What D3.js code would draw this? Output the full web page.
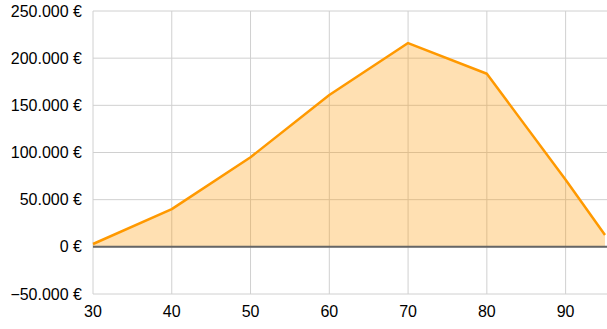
<!DOCTYPE html>
<html>
<head>
<meta charset="utf-8">
<script src="https://cdn.jsdelivr.net/npm/d3@7"></script>
<style>
  body { margin: 0; background: #fff; }
  text { font-family: "Liberation Sans", Arial, sans-serif; font-size: 16px; fill: #000; }
</style>
</head>
<body>
<div id="chart"></div>
<script>
// ages on the x axis and the amount at each age
var ages = [30, 40, 50, 60, 70, 80, 90, 95];
var amounts = [3000, 40000, 95000, 161000, 216000, 183500, 71000, 12500];
var xTicks = [30, 40, 50, 60, 70, 80, 90];
var yTicks = [-50000, 0, 50000, 100000, 150000, 200000, 250000];

var width = 607, height = 329;
var margin = { top: 11, right: 2, bottom: 35, left: 93 };

var svg = d3.select("#chart").append("svg")
    .attr("width", width)
    .attr("height", height);

var x = d3.scaleLinear()
    .domain([30, 95])
    .range([margin.left, width - margin.right]);

var y = d3.scaleLinear()
    .domain([-50000, 250000])
    .range([height - margin.bottom, margin.top]);

// euro format with dot as thousands separator
function euro(v) {
    var s = d3.format(",")(v).replace(/,/g, ".");
    return s + " €";
}

// grid
svg.append("g")
    .selectAll("line")
    .data(yTicks)
    .enter().append("line")
    .attr("x1", margin.left)
    .attr("x2", width)
    .attr("y1", function (d) { return y(d); })
    .attr("y2", function (d) { return y(d); })
    .attr("stroke", "#d0d0d0")
    .attr("stroke-width", 1);

svg.append("g")
    .selectAll("line")
    .data(xTicks)
    .enter().append("line")
    .attr("x1", function (d) { return x(d); })
    .attr("x2", function (d) { return x(d); })
    .attr("y1", y(250000))
    .attr("y2", y(-50000))
    .attr("stroke", "#d0d0d0")
    .attr("stroke-width", 1);

var pts = ages.map(function (a, i) { return [a, amounts[i]]; });

// area
var area = d3.area()
    .x(function (d) { return x(d[0]); })
    .y0(y(0))
    .y1(function (d) { return y(d[1]); });

svg.append("path")
    .datum(pts)
    .attr("d", area)
    .attr("fill", "#ff9900")
    .attr("fill-opacity", 0.3);

// zero line
svg.append("line")
    .attr("x1", margin.left)
    .attr("x2", width)
    .attr("y1", y(0))
    .attr("y2", y(0))
    .attr("stroke", "#666")
    .attr("stroke-width", 2);

// line
var line = d3.line()
    .x(function (d) { return x(d[0]); })
    .y(function (d) { return y(d[1]); });

svg.append("path")
    .datum(pts)
    .attr("d", line)
    .attr("fill", "none")
    .attr("stroke", "#ff9900")
    .attr("stroke-width", 2.5)
    .attr("stroke-linejoin", "round");

// y labels
svg.append("g")
    .selectAll("text")
    .data(yTicks)
    .enter().append("text")
    .attr("x", margin.left - 11)
    .attr("y", function (d) { return y(d); })
    .attr("dy", "0.35em")
    .attr("text-anchor", "end")
    .text(euro);

// x labels
svg.append("g")
    .selectAll("text")
    .data(xTicks)
    .enter().append("text")
    .attr("x", function (d) { return x(d); })
    .attr("y", 317)
    .attr("text-anchor", "middle")
    .text(function (d) { return d; });
</script>
</body>
</html>
